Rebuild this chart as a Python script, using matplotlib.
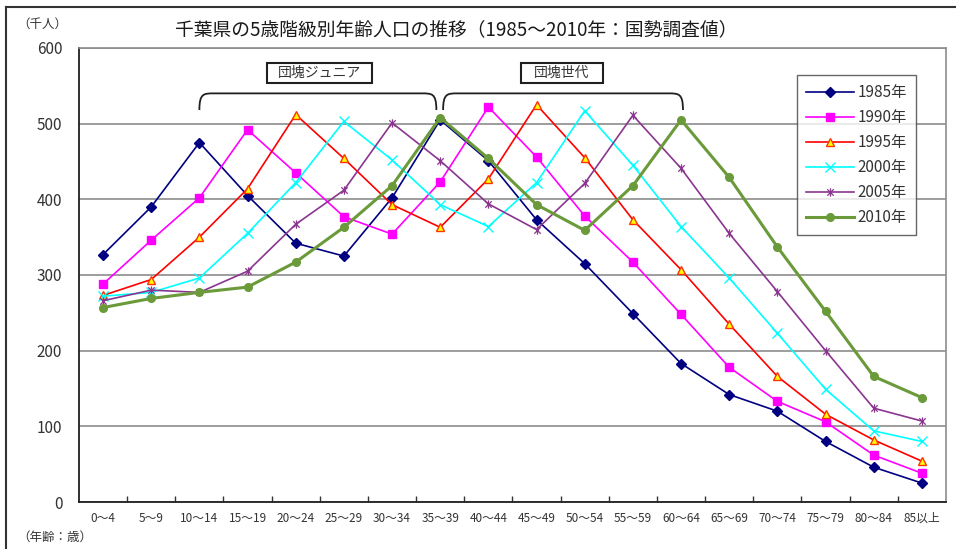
import matplotlib.pyplot as plt
import matplotlib
from matplotlib.lines import Line2D
from matplotlib.patches import PathPatch, Rectangle
from matplotlib.path import Path

matplotlib.rcParams["font.family"] = ["Noto Sans CJK JP", "DejaVu Sans"]
matplotlib.rcParams["axes.unicode_minus"] = False

# 5歳階級（千人）
AGE_GROUPS = ["0～4", "5～9", "10～14", "15～19", "20～24", "25～29", "30～34", "35～39",
              "40～44", "45～49", "50～54", "55～59", "60～64", "65～69", "70～74", "75～79",
              "80～84", "85以上"]

POP_1985 = [327, 390, 475, 405, 342, 325, 402, 505, 451, 373, 315, 249, 183, 142, 120, 80, 46, 25]
POP_1990 = [288, 346, 402, 492, 435, 377, 354, 423, 522, 456, 378, 317, 248, 178, 133, 106, 62, 38]
POP_1995 = [273, 294, 350, 414, 512, 454, 393, 363, 427, 525, 455, 373, 307, 235, 166, 116, 82, 54]
POP_2000 = [272, 277, 296, 355, 422, 503, 452, 393, 364, 422, 517, 445, 364, 296, 223, 149, 94, 80]
POP_2005 = [266, 280, 277, 305, 367, 412, 501, 451, 394, 360, 421, 511, 441, 355, 278, 200, 124, 107]
POP_2010 = [257, 269, 277, 284, 317, 363, 418, 508, 454, 393, 359, 418, 505, 429, 337, 252, 166, 138]

YEARS = ["1985年", "1990年", "1995年", "2000年", "2005年", "2010年"]

# Excelの「*」マーカー（×＋縦線）
STAR = Path([(-1, -1), (1, 1), (-1, 1), (1, -1), (0, -1.3), (0, 1.3)],
            [Path.MOVETO, Path.LINETO, Path.MOVETO, Path.LINETO, Path.MOVETO, Path.LINETO])

STYLES = [
    dict(color="#000080", marker="D", ms=5, mfc="#000080", mec="#000080", lw=1.2),
    dict(color="#FF00FF", marker="s", ms=5.5, mfc="#FF00FF", mec="#FF00FF", lw=1.2),
    dict(color="#FF0000", marker="^", ms=6, mfc="#FFFF00", mec="#FF3300", mew=1.0, lw=1.2),
    dict(color="#00FFFF", marker="x", ms=6.5, mec="#00FFFF", mew=1.0, lw=1.2),
    dict(color="#8A358F", marker=STAR, ms=6, mec="#8A358F", mew=0.9, lw=1.2),
    dict(color="#6A9A3A", marker="o", ms=5.5, mfc="#6A9A3A", mec="#6A9A3A", lw=2.2),
]


def brace(ax, x0, x1, yb, yt, dx=0.3):
    verts = [(x0, yb), (x0, yt), (x0 + dx * 0.3, yt), (x0 + dx, yt),
             (x1 - dx, yt),
             (x1 - dx * 0.3, yt), (x1, yt), (x1, yb)]
    codes = [Path.MOVETO, Path.CURVE4, Path.CURVE4, Path.CURVE4,
             Path.LINETO,
             Path.CURVE4, Path.CURVE4, Path.CURVE4]
    ax.add_patch(PathPatch(Path(verts, codes), fill=False, lw=1.3, ec="#202020", clip_on=False))


def label_box(ax, xc, yc, w, h, text):
    ax.add_patch(Rectangle((xc - w / 2, yc - h / 2), w, h, fill=False, lw=1.5,
                           ec="#202020", clip_on=False))
    ax.text(xc, yc, text, ha="center", va="center", fontsize=10, color="#333333")


def main():
    fig = plt.figure(figsize=(9.56, 5.49), dpi=100)
    ax = fig.add_axes([0.0826, 0.0856, 0.9069, 0.8270])

    x = list(range(len(AGE_GROUPS)))
    series = [POP_1985, POP_1990, POP_1995, POP_2000, POP_2005, POP_2010]
    for vals, label, st in zip(series, YEARS, STYLES):
        ax.plot(x, vals, label=label, **st)

    ax.set_xlim(-0.5, len(AGE_GROUPS) - 0.5)
    ax.set_ylim(0, 600)
    ax.set_yticks(range(0, 601, 100))
    ax.set_xticks(x)
    ax.set_xticklabels(AGE_GROUPS, fontsize=8.5, color="#333333")
    ax.set_xticks([i + 0.5 for i in x[:-1]], minor=True)
    ax.tick_params(axis="x", which="major", length=0, pad=7)
    ax.tick_params(axis="x", which="minor", direction="in", length=4, width=1, color="#333333")
    ax.tick_params(axis="y", length=0, pad=12, labelsize=11, labelcolor="#333333")
    ax.grid(axis="y", color="#8C8C8C", lw=1.2)
    ax.set_axisbelow(True)
    for side in ("left", "bottom"):
        ax.spines[side].set_color("#202020")
        ax.spines[side].set_linewidth(1.3)
    for side in ("top", "right"):
        ax.spines[side].set_color("#8C8C8C")
        ax.spines[side].set_linewidth(1.2)

    # 団塊ジュニア・団塊世代の範囲
    brace(ax, 2.0, 6.92, 518, 540)
    brace(ax, 7.06, 12.04, 518, 540)
    label_box(ax, 4.5, 567, 2.18, 26, "団塊ジュニア")
    label_box(ax, 9.52, 567, 1.7, 26, "団塊世代")

    leg = ax.legend(loc="upper left", bbox_to_anchor=(797 / 956, 1 - 75 / 549),
                    bbox_transform=fig.transFigure, fontsize=11, frameon=True,
                    fancybox=False, handlelength=3.1, handletextpad=0.25,
                    labelspacing=0.52, borderpad=0.6, borderaxespad=0)
    leg.get_frame().set_edgecolor("#404040")
    leg.get_frame().set_linewidth(1.0)
    for t in leg.get_texts():
        t.set_color("#333333")

    fig.text(456 / 956, 1 - 30 / 549, "千葉県の5歳階級別年齢人口の推移（1985～2010年：国勢調査値）",
             ha="center", va="center", fontsize=13.5, color="#1A1A1A")
    fig.text(17 / 956, 1 - 24 / 549, "（千人）", ha="left", va="center", fontsize=9, color="#333333")
    fig.text(17 / 956, 1 - 537 / 549, "（年齢：歳）", ha="left", va="center", fontsize=9, color="#333333")

    # チャート外枠（上・左）
    fig.add_artist(Line2D([6 / 956, 1.0], [1 - 7 / 549, 1 - 7 / 549], color="#333333", lw=1.5))
    fig.add_artist(Line2D([6 / 956, 6 / 956], [0.0, 1 - 7 / 549], color="#333333", lw=1.5))

    fig.savefig("out.png", dpi=100)
    plt.close(fig)


if __name__ == "__main__":
    main()
